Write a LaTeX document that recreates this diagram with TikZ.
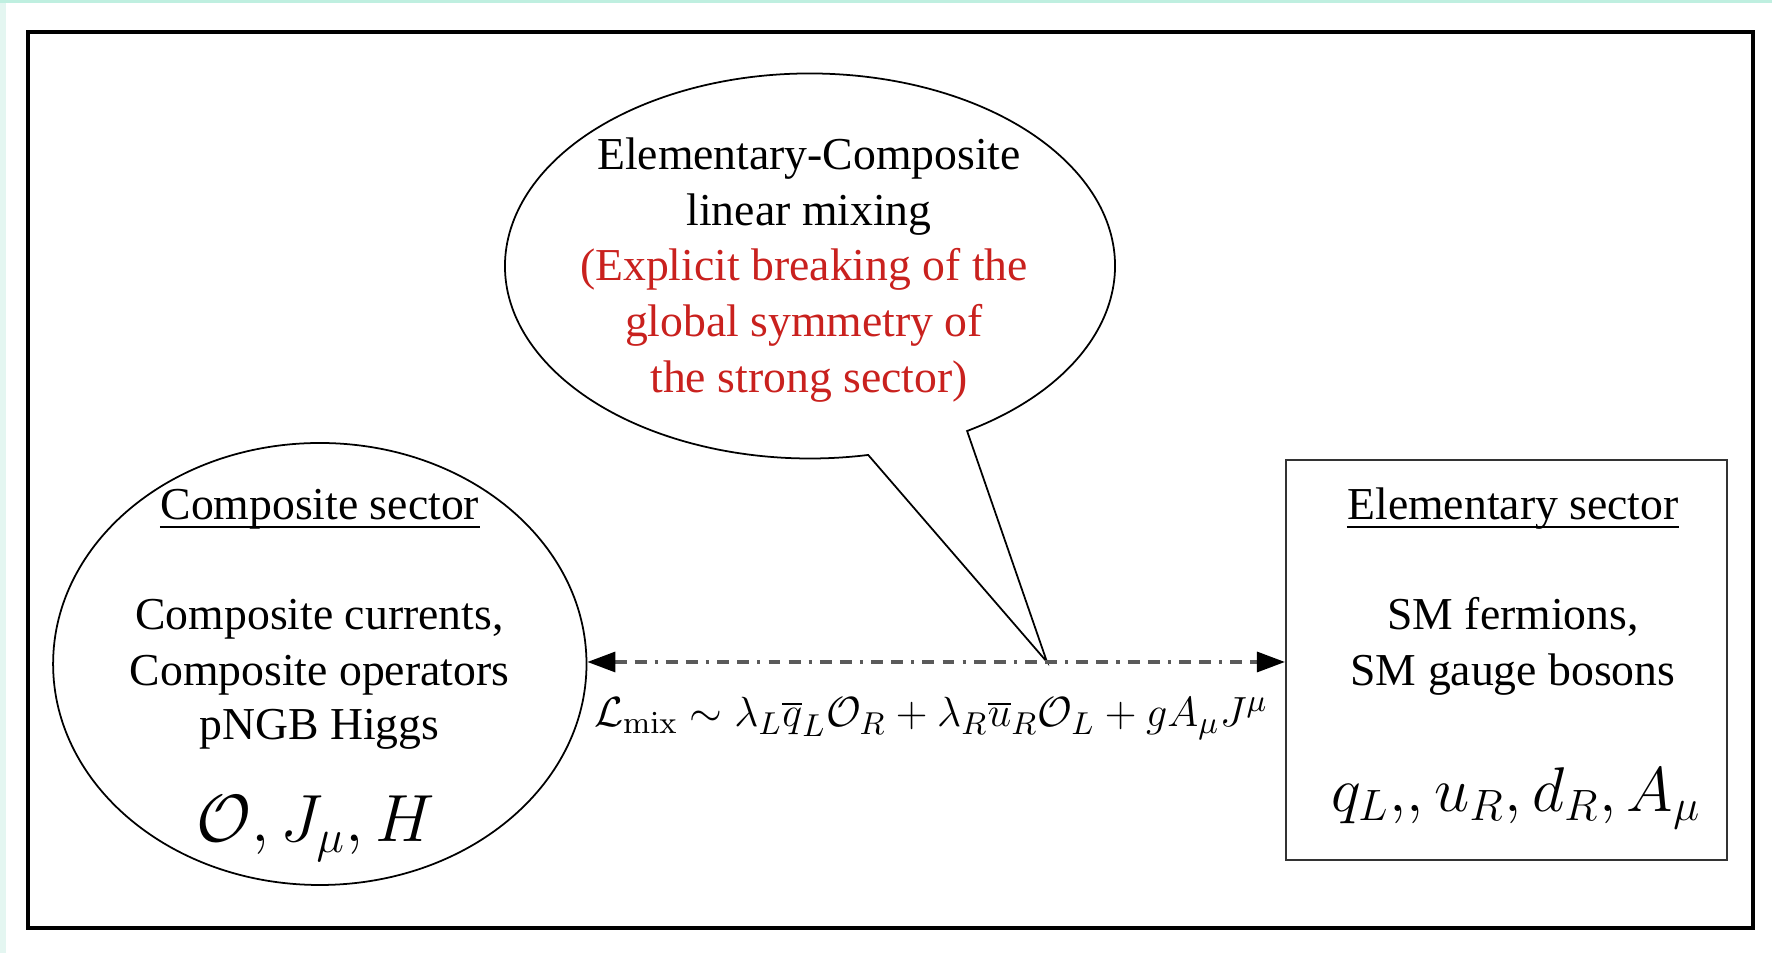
\documentclass[tikz,border=0pt]{standalone}
\usepackage[no-math]{fontspec}
\setmainfont{Liberation Serif}
\usetikzlibrary{arrows.meta,shapes.geometric}

\tikzset{
  sector/.style={draw=black, line width=0.5pt, inner sep=0pt},
  plaintext/.style={anchor=base, inner sep=0pt, text=black, font=\fontsize{13}{15.6}\selectfont},
  redtext/.style={plaintext, text=breakRed},
  bigmath/.style={anchor=base, inner sep=0pt},
  underbar/.style={line width=0.7pt},
  mixarrow/.style={draw=dashGrey, line width=0.9pt,
    dash pattern=on 3.4pt off 2.3pt on 3.4pt off 2.3pt on 0.9pt off 2.3pt,
    {Triangle[length=0.28cm,width=0.2cm,color=black]}-{Triangle[length=0.28cm,width=0.2cm,color=black]}}
}

\begin{document}
\begin{tikzpicture}
    \definecolor{breakRed}{HTML}{C9211E}
    \definecolor{dashGrey}{HTML}{5A5A5A}
    \definecolor{mintTop}{HTML}{BFEFE0}
    \definecolor{mintSide}{HTML}{E4F6F1}
    \useasboundingbox (0,0) rectangle (17.72,9.53);

    % Mint edges of the page
    \fill[mintTop] (0,9.50) rectangle (17.72,9.53);
    \fill[mintSide] (0,0) rectangle (0.06,9.50);

    % Outer frame
    \draw[line width=1pt] (0.28,0.25) rectangle (17.53,9.21);

    % Composite sector (ellipse) and elementary sector (box)
    \node[sector, ellipse, minimum width=5.334cm, minimum height=4.42cm] (composite) at (3.198,2.89) {};
    \node[sector, draw=black!80, line width=0.6pt, minimum width=4.41cm, minimum height=4.0cm] (elementary) at (15.065,2.93) {};

    % Speech bubble with its tail
    \coordinate (bubC) at (8.10,6.87);
    \coordinate (tip) at (10.47,2.91);
    \coordinate (bubR) at ([shift={(-59:3.05 and 1.925)}]bubC);
    \draw[line width=0.5pt] (bubR) arc[start angle=-59, end angle=281, x radius=3.05cm, y radius=1.925cm] -- (tip) -- cycle;

    % Text in the bubble
    \node[plaintext] (mix1) at (8.09,7.835) {Elementary-Composite};
    \node[plaintext] (mix2) at (8.09,7.278) {linear mixing};
    \node[redtext] (mix3) at (8.04,6.721) {(Explicit breaking of the};
    \node[redtext] (mix4) at (8.04,6.164) {global symmetry of};
    \node[redtext] (mix5) at (8.09,5.607) {the strong sector)};

    % Composite sector text
    \node[plaintext] (comptitle) at (3.198,4.33) {Composite sector};
    \draw[underbar] ([yshift=-0.068cm]comptitle.base west) -- ([yshift=-0.068cm]comptitle.base east);
    \node[plaintext] (comp1) at (3.195,3.23) {Composite currents,};
    \node[plaintext] (comp2) at (3.195,2.67) {Composite operators};
    \node[plaintext] (comp3) at (3.195,2.13) {pNGB Higgs};
    \node[bigmath, scale=1.1, font=\fontsize{17.28}{20}\selectfont] (compmath) at (3.153,1.11) {$\mathcal{O},J_\mu,H$};

    % Elementary sector text
    \node[plaintext] (elemtitle) at (15.13,4.33) {Elementary sector};
    \draw[underbar] ([yshift=-0.068cm]elemtitle.base west) -- ([yshift=-0.068cm]elemtitle.base east);
    \node[plaintext] (elem1) at (15.13,3.23) {SM fermions,};
    \node[plaintext] (elem2) at (15.13,2.67) {SM gauge bosons};
    \node[bigmath, scale=1.04, font=\fontsize{17.28}{20}\selectfont] (elemmath) at (15.16,1.416) {$q_L{,},u_R,d_R,A_\mu$};

    % Mixing between the two sectors
    \draw[mixarrow] (composite.east |- tip) -- (elementary.west |- tip);
    \node[bigmath, font=\fontsize{12.7}{15}\selectfont] (lagr) at (9.31,2.26)
        {$\mathcal{L}_{\mathrm{mix}}\sim\lambda_L\overline{q}_L\mathcal{O}_R+\lambda_R\overline{u}_R\mathcal{O}_L+gA_\mu J^\mu$};

\end{tikzpicture}
\end{document}
